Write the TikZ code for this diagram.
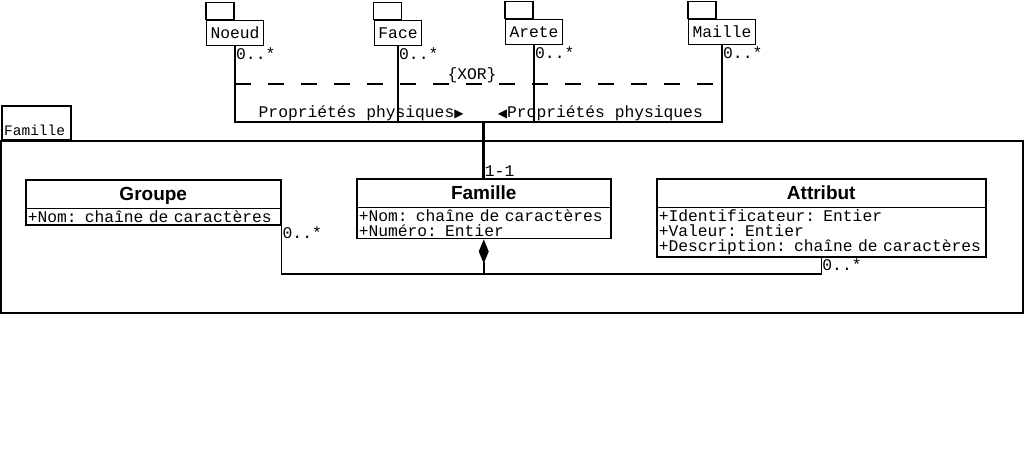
\documentclass[tikz,border=0pt]{standalone}
\usepackage{fontspec}
\usetikzlibrary{arrows.meta, positioning, shapes.multipart}
\newfontfamily\umlmono{Liberation Mono}
\newfontfamily\umlsans{Liberation Sans}
\newfontfamily\umlsym{DejaVu Sans}
\tikzset{
  mono/.style={font=\umlmono\fontsize{16.3}{15}\selectfont},
  assoc/.style={line width=1.5pt},
  pkg/.style={draw, line width=1.5pt, mono, inner xsep=4pt, inner ysep=0pt, minimum height=25pt},
  umlclass/.style={draw, line width=1.5pt, rectangle split, rectangle split parts=2,
    anchor=north west, mono, align=left, inner xsep=2pt, inner ysep=1.5pt},
}
\newcommand{\classtitle}[1]{\makebox[\linewidth][c]{\umlsans\bfseries\fontsize{19}{20}\selectfont\rule[-6pt]{0pt}{24pt}#1}}
\newcommand{\navtip}[1]{{\umlsym\fontsize{12}{12}\selectfont #1}}

\begin{document}
\begin{tikzpicture}[x=1pt, y=-1pt]
    \useasboundingbox (0,0) rectangle (1024,449);

    % paquetages du maillage
    \node[pkg] (noeud) at (235,33) {Noeud};
    \node[pkg] (face) at (398,33) {Face};
    \node[pkg] (arete) at (534,32) {Arete};
    \node[pkg] (maille) at (722,32) {Maille};
    \foreach \p in {noeud,face,arete,maille}{
        \draw[assoc] (\p.north west) rectangle ++(28,-17);
        \node[mono, below right, inner sep=1pt] (\p-mult) at (\p.south) {0..*};
    }

    % paquetage Famille
    \draw[assoc] (1,141) rectangle (1023,313);
    \node[draw, assoc, anchor=south west, minimum width=69pt, minimum height=34pt] (pkgtab) at (1,141) {};
    \node[mono, font=\umlmono\fontsize{14.5}{15}\selectfont, anchor=south west, inner xsep=3pt, inner ysep=5pt]
        (pkgname) at (pkgtab.south west) {Famille};

    % classes
    \node[umlclass, text width=251pt] (groupe) at (25,179)
        {\classtitle{Groupe} \nodepart{two} +Nom: chaîne de caractères};
    \node[umlclass, text width=250pt] (famille) at (356,178)
        {\classtitle{Famille} \nodepart{two} +Nom: chaîne de caractères\\+Numéro: Entier};
    \node[umlclass, text width=325pt] (attribut) at (656,178)
        {\classtitle{Attribut} \nodepart{two} +Identificateur: Entier\\+Valeur: Entier\\+Description: chaîne de caractères};

    % proprietes physiques
    \coordinate (bus) at (famille.north |- 0,122);
    \foreach \p in {noeud,face,arete,maille}
        \draw[assoc] (\p.south) |- (bus);
    \draw[line width=3pt] (bus) -- (famille.north);
    \node[mono, above right, inner sep=1pt] (card) at (famille.north) {1-1};
    \node[mono, above left=1pt and 20pt of bus, inner sep=0pt] (propg)
        {Propriétés physiques\navtip{▶}};
    \node[mono, above right=1pt and 14pt of bus, inner sep=0pt] (propd)
        {\navtip{◀}Propriétés physiques};

    % contrainte
    \draw[assoc, dash pattern=on 16pt off 17pt] (noeud.south |- 0,84) -- (maille.south |- 0,84);
    \node[mono, anchor=south, inner sep=1pt] (xor) at (472,84) {\{XOR\}};

    % composition
    \coordinate (comp) at (famille.south |- 0,274);
    \draw[assoc, {Diamond[length=24pt, width=10pt]}-] (famille.south) -- (comp);
    \draw[assoc] (groupe.south east) |- (comp) -| (attribut.south);
    \node[mono, below right, inner sep=1pt] (groupe-mult) at (groupe.south east) {0..*};
    \node[mono, below right, inner sep=1pt] (attribut-mult) at (attribut.south) {0..*};
\end{tikzpicture}
\end{document}
